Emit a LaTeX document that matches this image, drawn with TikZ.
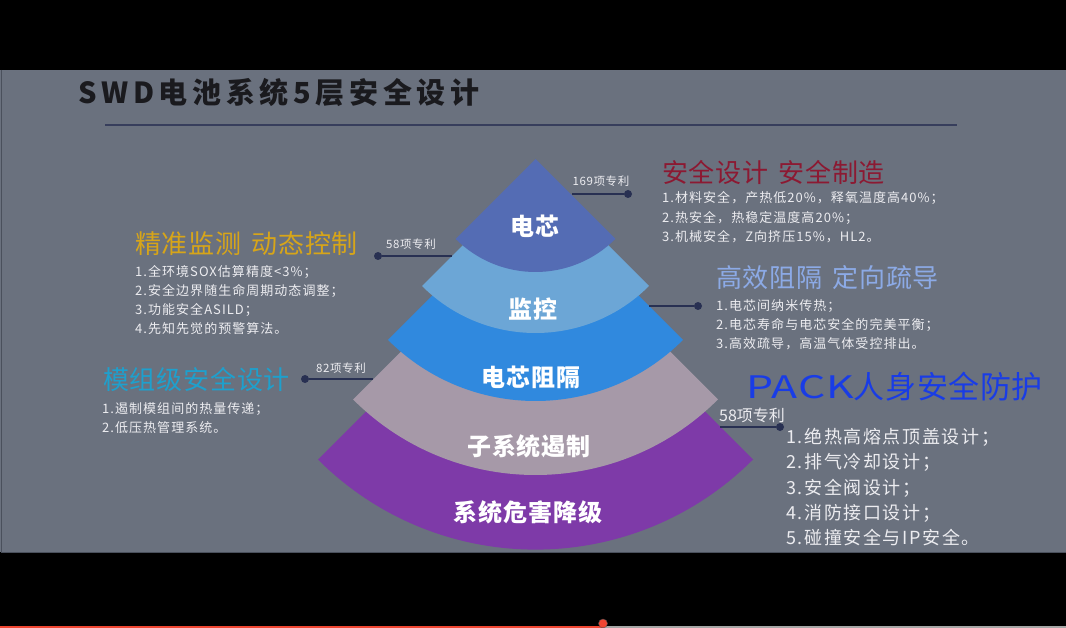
\documentclass[tikz,border=0pt]{standalone}
\usepackage{fontspec}
\setmainfont{Noto Sans CJK SC}
\definecolor{slidegray}{HTML}{6A717E}
\definecolor{slideedge}{HTML}{4A505C}
\definecolor{titleink}{HTML}{1A1A1E}
\definecolor{rulenavy}{HTML}{373E5C}
\definecolor{linknavy}{HTML}{283052}
\definecolor{bodywhite}{HTML}{ECECF0}
\definecolor{layerA}{HTML}{546CB4}
\definecolor{layerB}{HTML}{6CA6D6}
\definecolor{layerC}{HTML}{3089DE}
\definecolor{layerD}{HTML}{A699A8}
\definecolor{layerE}{HTML}{7E3AA8}
\definecolor{headred}{HTML}{8C1932}
\definecolor{headgold}{HTML}{D7A519}
\definecolor{headsky}{HTML}{8CAAE6}
\definecolor{headcyan}{HTML}{1EA0CD}
\definecolor{headblue}{HTML}{193CE6}
\definecolor{barred}{HTML}{F04632}
\begin{document}
\begin{tikzpicture}[x=1pt, y=-1pt,
   layer_label/.style={text=white, inner sep=0, font=\fontsize{24}{24}\selectfont\bfseries\addfontfeature{LetterSpace=4}},
   patent_style/.style={text=bodywhite, inner sep=0, font=\fontsize{11.5}{12}\selectfont\addfontfeature{LetterSpace=5}},
   head_style/.style={anchor=west, inner sep=0, font=\fontsize{26}{26}\selectfont\addfontfeature{LetterSpace=3}},
   body_style/.style={anchor=north west, inner sep=0, align=left, text=bodywhite, font=\fontsize{13}{19}\selectfont\addfontfeature{LetterSpace=8}},
   dot_style/.style={circle, fill=linknavy, inner sep=0, minimum size=8pt},
   edge_style/.style={draw=linknavy, line width=1.6pt}]

  % frame of the screen
  \fill[black] (0,0) rectangle (1066,628);
  \useasboundingbox (0,0) rectangle (1066,628);
  \fill[slidegray] (0,70) rectangle (1066,552);
  \draw[slideedge, line width=1pt] (1.5,70) -- (1.5,552) -- (1066,552);
  \fill[barred] (0,625.5) rectangle (603,628);
  \fill[gray!70] (603,625.5) rectangle (1066,628);
  \fill[barred, draw=black!70] (603,623.5) circle (4.5);

  % title
  \node [anchor=west, inner sep=0, text=titleink,
         font=\fontsize{29}{29}\selectfont\bfseries\addfontfeature{LetterSpace=16}] (title) at (78,92) {SWD电池系统5层安全设计};
  \draw[rulenavy, line width=1.5pt] (105,125) -- (957,125);

  % five fan layers, bottom first
  \foreach \ay/\r/\col in {242/307.6/layerE, 217/258/layerD, 192.4/208.6/layerC,
                           172.5/160.5/layerB, 159/113/layerA}
    \fill[\col] (535.5,\ay) -- ++(135:\r) arc[start angle=135, end angle=45, radius=\r] -- cycle;

  \node [layer_label] (l1) at (535,226) {电芯};
  \node [layer_label] (l2) at (533,309) {监控};
  \node [layer_label] (l3) at (531,377) {电芯阻隔};
  \node [layer_label] (l4) at (529,446) {子系统遏制};
  \node [layer_label] (l5) at (528,512) {系统危害降级};

  % patent counts and their links
  \coordinate (e1) at (572,194);
  \coordinate (e2) at (452,256);
  \coordinate (e3) at (649,306);
  \coordinate (e4) at (373,379);
  \coordinate (e5) at (720,427);
  \node [dot_style] (d1) at (628,194) {};
  \node [dot_style] (d2) at (378,256) {};
  \node [dot_style] (d3) at (698,306) {};
  \node [dot_style] (d4) at (305,379) {};
  \node [dot_style] (d5) at (780,427) {};
  \foreach \from/\to in {e1/d1, e2/d2, e3/d3, e4/d4, e5/d5}
    \draw [edge_style] (\from) -- (\to);

  \node [patent_style] (p1) at (601,181) {169项专利};
  \node [patent_style] (p2) at (411,244) {58项专利};
  \node [patent_style] (p4) at (341,368) {82项专利};
  \node [patent_style, font=\fontsize{16}{16}\selectfont] (p5) at (752,415) {58项专利};

  % headings
  \node [head_style, text=headred] (h1) at (662,173) {安全设计\hspace{10pt}安全制造};
  \node [head_style, text=headgold] (h2) at (135,244) {精准监测\hspace{10pt}动态控制};
  \node [head_style, text=headsky] (h3) at (716,278) {高效阻隔\hspace{10pt}定向疏导};
  \node [head_style, text=headcyan] (h4) at (103,380) {模组级安全设计};
  \node [head_style, text=headblue, font=\fontsize{31}{31}\selectfont\addfontfeature{LetterSpace=2}] (h5) at (746,387)
    {\scalebox{1.38}[1]{PACK}人身安全防护};

  % details
  \node [body_style, font=\fontsize{13}{19.5}\selectfont\addfontfeature{LetterSpace=8}] (b1) at (662,191.5)
    {1.材料安全，产热低20\%，释氧温度高40\%；\\2.热安全，热稳定温度高20\%；\\3.机械安全，Z向挤压15\%，HL2。};
  \node [body_style] (b2) at (135,265.5)
    {1.全环境SOX估算精度<3\%；\\2.安全边界随生命周期动态调整；\\3.功能安全ASILD；\\4.先知先觉的预警算法。};
  \node [body_style] (b3) at (716,299.5)
    {1.电芯间纳米传热；\\2.电芯寿命与电芯安全的完美平衡；\\3.高效疏导，高温气体受控排出。};
  \node [body_style] (b4) at (102,402.5)
    {1.遏制模组间的热量传递；\\2.低压热管理系统。};
  \node [body_style, font=\fontsize{18}{25.25}\selectfont\addfontfeature{LetterSpace=9}] (b5) at (786,428)
    {1.绝热高熔点顶盖设计；\\2.排气冷却设计；\\3.安全阀设计；\\4.消防接口设计；\\5.碰撞安全与IP安全。};

\end{tikzpicture}
\end{document}
